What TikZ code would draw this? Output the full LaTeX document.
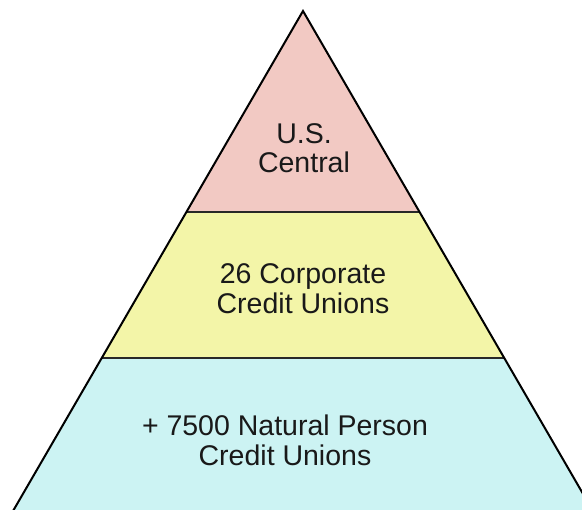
\documentclass[tikz,border=0pt]{standalone}
\usepackage{fontspec}
\newfontfamily\labelfont{Liberation Sans}
\usetikzlibrary{positioning}
\definecolor{toppink}{RGB}{242,201,195}
\definecolor{midyellow}{RGB}{243,245,168}
\definecolor{basecyan}{RGB}{204,243,243}
\definecolor{textgrey}{RGB}{25,25,25}
\definecolor{linegrey}{RGB}{40,40,40}

\begin{document}
\begin{tikzpicture}[x=1pt,y=-1pt,
    tier/.style={font=\labelfont\fontsize{28.5}{29.5}\selectfont, align=center, inner sep=0pt, text=textgrey},
    edge/.style={line width=2pt, black},
    divider/.style={line width=1.5pt, linegrey}]
    \useasboundingbox (0,0) rectangle (582,510);
    \begin{scope}
    \clip (0,0) rectangle (582,510);
    \coordinate (apex) at (303,11);
    \coordinate (l1) at (186.4,212);
    \coordinate (r1) at (419.6,212);
    \coordinate (l2) at (101.7,358);
    \coordinate (r2) at (504.3,358);
    \coordinate (l3) at (7.8,520);
    \coordinate (r3) at (598.2,520);

    \fill[toppink] (apex) -- (r1) -- (l1) -- cycle;
    \fill[midyellow] (l1) -- (r1) -- (r2) -- (l2) -- cycle;
    \fill[basecyan] (l2) -- (r2) -- (r3) -- (l3) -- cycle;
    \draw[divider] (l1) -- (r1);
    \draw[divider] (l2) -- (r2);
    \draw[edge] (l3) -- (apex) -- (r3);
    \end{scope}

    \node[tier] (central) at (304,148) {U.S.\\Central};
    \node[tier] (corporate) at (303,288.5) {26 Corporate\\Credit Unions};
    \node[tier] (natural) at (285,440.5) {+ 7500 Natural Person\\Credit Unions};
\end{tikzpicture}
\end{document}
